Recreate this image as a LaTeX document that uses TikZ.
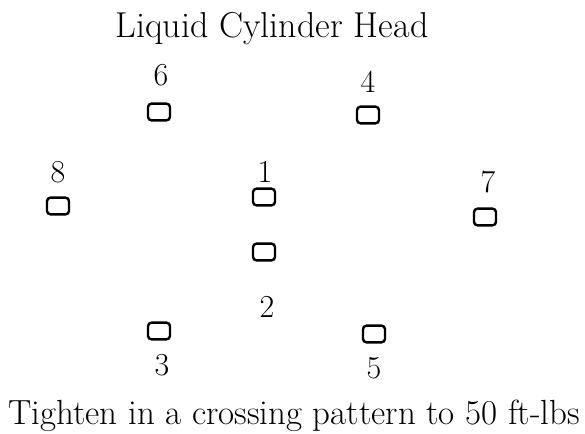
\documentclass[tikz,border=0pt]{standalone}
\usetikzlibrary{positioning}

\begin{document}
\begin{tikzpicture}[
  x=0.75pt, y=-0.75pt,
  bolt/.style={draw, rounded corners=2.6pt, line width=1.8pt,
               minimum width=16.5pt, minimum height=12.5pt, inner sep=0pt},
  num/.style={font=\fontsize{24}{28}\selectfont, anchor=base, inner sep=0pt},
  caption/.style={font=\fontsize{#1}{30}\selectfont, anchor=base, inner sep=0pt},
  caption/.default=26
]
\useasboundingbox (0,0) rectangle (585,433);

% Title
\node[caption=27] (title) at (272,37) {Liquid Cylinder Head};

% Bolts
\node[bolt] (b6) at (159,112) {};
\node[bolt] (b4) at (368,115) {};
\node[bolt] (b8) at (58,206) {};
\node[bolt] (b1) at (264,197) {};
\node[bolt] (b2) at (264,252) {};
\node[bolt] (b7) at (485,217) {};
\node[bolt] (b3) at (159,331) {};
\node[bolt] (b5) at (374,334) {};

% Numbers
\node[num] (n6) at (161,85) {6};
\node[num] (n4) at (368,92) {4};
\node[num] (n8) at (58,182) {8};
\node[num] (n1) at (265,182) {1};
\node[num] (n7) at (488,192) {7};
\node[num] (n2) at (267,317) {2};
\node[num] (n3) at (162,375) {3};
\node[num] (n5) at (374,378) {5};

% Note
\node[caption=26.2] (note) at (294,424) {Tighten in a crossing pattern to 50 ft-lbs};

\end{tikzpicture}
\end{document}
